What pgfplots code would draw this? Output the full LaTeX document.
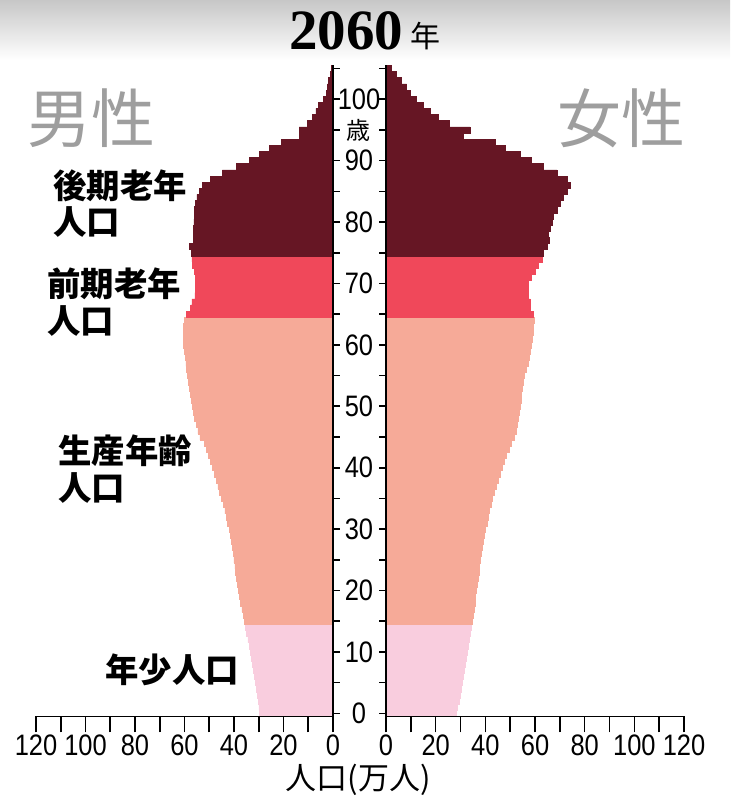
\documentclass[border=0pt]{standalone}
\usepackage{pgfplots}
\pgfplotsset{compat=1.18}
\usepackage{pgfplotstable}
\usepackage{graphicx}
\usepackage{fontspec}
\setmainfont{Liberation Sans}
\newfontfamily\cjk{Noto Sans CJK JP}
\newfontfamily\titleserif{Liberation Serif}
\definecolor{cOld}{RGB}{102,22,36}
\definecolor{cEarly}{RGB}{240,72,90}
\definecolor{cWork}{RGB}{246,170,152}
\definecolor{cYoung}{RGB}{249,205,222}
\newcommand{\tl}[1]{\scalebox{0.86}[1]{#1}}

\pgfplotstableread{
age val
0 29.6
1 29.9
2 30.3
3 30.7
4 31.1
5 31.5
6 31.9
7 32.3
8 32.6
9 33.0
10 33.5
11 33.9
12 34.4
13 34.9
14 35.4
15 35.8
16 36.3
17 36.8
18 37.4
19 37.9
20 38.3
21 38.7
22 39.0
23 39.3
24 39.6
25 40.0
26 40.4
27 40.7
28 41.1
29 41.5
30 42.0
31 42.6
32 43.1
33 43.7
34 44.4
35 45.1
36 45.8
37 46.5
38 47.2
39 47.8
40 48.6
41 49.4
42 50.2
43 51.0
44 51.8
45 53.8
46 54.6
47 55.3
48 55.9
49 56.4
50 56.9
51 57.3
52 57.7
53 58.1
54 58.5
55 58.8
56 59.1
57 59.4
58 59.7
59 60.0
60 60.3
61 60.5
62 60.6
63 60.4
64 60.2
65 59.2
66 57.5
67 57.0
68 55.8
69 55.6
70 55.6
71 55.6
72 56.0
73 56.7
74 57.0
75 57.2
76 57.9
77 56.5
78 56.3
79 56.3
80 56.2
81 56.0
82 55.9
83 55.5
84 55.0
85 53.9
86 52.8
87 49.4
88 44.7
89 39.0
90 33.9
91 29.6
92 25.6
93 20.8
94 13.7
95 13.7
96 10.3
97 8.2
98 6.9
99 5.9
100 4.0
101 2.7
102 2.3
103 1.8
104 1.0
105 0.5
}\male

\pgfplotstableread{
age val
0 28.5
1 28.9
2 29.4
3 29.9
4 30.5
5 30.9
6 31.3
7 31.7
8 32.1
9 32.5
10 32.9
11 33.3
12 33.6
13 33.9
14 34.3
15 34.8
16 35.1
17 35.4
18 35.8
19 36.1
20 36.5
21 36.8
22 37.1
23 37.4
24 37.7
25 38.1
26 38.5
27 38.9
28 39.3
29 39.7
30 40.1
31 40.6
32 41.1
33 41.7
34 42.3
35 43.0
36 43.7
37 44.4
38 45.1
39 45.9
40 46.8
41 47.7
42 48.6
43 49.6
44 50.6
45 51.6
46 52.3
47 53.0
48 53.3
49 53.7
50 54.0
51 54.3
52 54.6
53 54.9
54 55.3
55 55.8
56 56.5
57 57.2
58 57.8
59 58.3
60 58.7
61 59.0
62 59.3
63 59.5
64 59.6
65 59.4
66 58.3
67 58.0
68 57.4
69 57.3
70 57.4
71 58.7
72 60.1
73 61.4
74 62.8
75 63.4
76 64.8
77 65.7
78 65.5
79 66.1
80 66.8
81 67.5
82 68.8
83 70.2
84 71.5
85 72.9
86 74.2
87 72.9
88 68.8
89 63.4
90 58.7
91 54.0
92 48.0
93 44.0
94 31.2
95 33.8
96 25.4
97 21.0
98 17.7
99 15.1
100 12.4
101 9.7
102 8.3
103 6.3
104 4.3
105 2.3
}\female

\pgfplotsset{
  pyr/.style={
    scale only axis, height=325.45pt,
    ymin=-0.5, ymax=105.5, xmin=0, xmax=120,
    axis on top,
    xtick={0,20,...,120},
    xticklabels={\tl{0},\tl{20},\tl{40},\tl{60},\tl{80},\tl{100},\tl{120}},
    xticklabel style={yshift=-2pt},
    major x tick style={draw=none},
    minor xtick={0,10,...,120},
    minor tick length=8pt,
    ytick={0,5,...,105},
    major tick length=3.5pt,
    tick style={line width=0.8pt, black},
    tick label style={font=\fontsize{14.8}{14.8}\selectfont},
    /pgf/number format/assume math mode=true,
  },
  noarrows/.style={
    axis line style={-, line width=0.8pt},
    every inner x axis line/.append style={-},
    every inner y axis line/.append style={-},
    every outer x axis line/.append style={-},
    every outer y axis line/.append style={-},
    tick align=outside,
    xtick align=outside, ytick align=outside,
  },
  grp/.style={xbar, bar width=1, bar shift=0pt, fill=#1, draw=#1, line width=0.3pt},
}

\begin{document}
\begin{tikzpicture}[x=1pt,y=1pt]
\path[use as bounding box] (0,0) rectangle (365,399);
\shade[top color=black!22, bottom color=white] (0,399) rectangle (365,369);

% male (left)
\begin{axis}[pyr, at={(18pt,40.8pt)}, anchor=south west, width=148.5pt,
  x dir=reverse, axis x line=bottom, axis y line=right, noarrows,
  yticklabels={\tl{0},,\tl{10},,\tl{20},,\tl{30},,\tl{40},,\tl{50},,\tl{60},,\tl{70},,\tl{80},,\tl{90},{\cjk\fontsize{12}{12}\selectfont 歳},\tl{100},},
  yticklabel style={anchor=center, xshift=9.5pt},
]
\addplot[grp=cYoung, restrict y to domain=-1:14.5] table[x=val,y=age] {\male};
\addplot[grp=cWork, restrict y to domain=14.5:64.5] table[x=val,y=age] {\male};
\addplot[grp=cEarly, restrict y to domain=64.5:74.5] table[x=val,y=age] {\male};
\addplot[grp=cOld, restrict y to domain=74.5:106] table[x=val,y=age] {\male};
\end{axis}

% female (right)
\begin{axis}[pyr, at={(193pt,40.8pt)}, anchor=south west, width=149pt,
  axis x line=bottom, axis y line=left, noarrows, yticklabels={},
]
\addplot[grp=cYoung, restrict y to domain=-1:14.5] table[x=val,y=age] {\female};
\addplot[grp=cWork, restrict y to domain=14.5:64.5] table[x=val,y=age] {\female};
\addplot[grp=cEarly, restrict y to domain=64.5:74.5] table[x=val,y=age] {\female};
\addplot[grp=cOld, restrict y to domain=74.5:106] table[x=val,y=age] {\female};
\end{axis}

% texts
\node[inner sep=0, font=\titleserif\bfseries\fontsize{28.5}{28.5}\selectfont] at (173,383.5) {2060};
\node[inner sep=0, font=\cjk\fontsize{15}{15}\selectfont] at (212.5,381) {年};
\node[inner sep=0, text=black!38, font=\cjk\fontsize{32}{32}\selectfont] at (45.5,340) {男性};
\node[inner sep=0, text=black!38, font=\cjk\fontsize{32}{32}\selectfont] at (310.5,340) {女性};
\begin{scope}[every node/.style={inner sep=0, anchor=west, font=\cjk\bfseries\fontsize{16.7}{16.7}\selectfont}]
\node at (26.5,306) {後期老年};
\node at (26.5,288) {人口};
\node at (23.5,257) {前期老年};
\node at (23.5,238.5) {人口};
\node at (29,173.5) {生産年齢};
\node at (29,155) {人口};
\node at (52.5,64) {年少人口};
\end{scope}
\node[inner sep=0, font=\cjk\fontsize{15.5}{15.5}\selectfont] at (179,9) {人口(万人)};
\end{tikzpicture}
\end{document}
